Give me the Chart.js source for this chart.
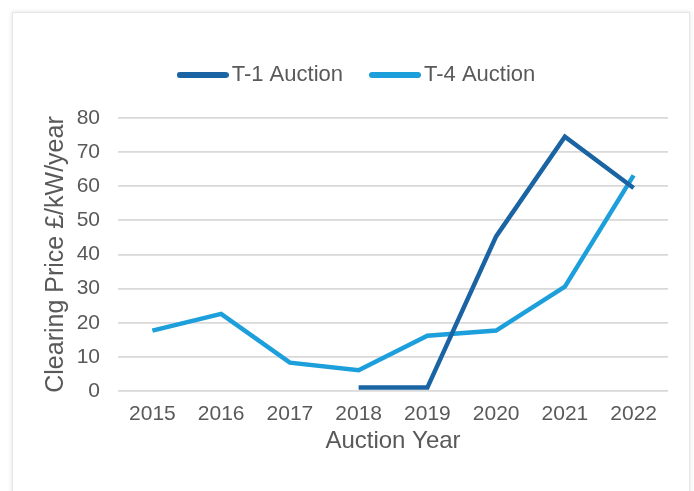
<!DOCTYPE html>
<html>
<head>
<meta charset="utf-8">
<title>Capacity Market clearing prices</title>
<script src="https://cdn.jsdelivr.net/npm/chart.js@4.4.1/dist/chart.umd.min.js"></script>
<style>
  html, body { margin: 0; padding: 0; background: #ffffff; overflow: hidden; }
  .card {
    position: absolute; left: 12px; top: 12px; width: 676px; height: 520px;
    border: 1px solid #e6e6e6; box-shadow: 0 0 5px rgba(0, 0, 0, 0.12);
    background: #ffffff;
  }
  #wrap { position: absolute; left: 0; top: 0; width: 694px; height: 491px; }
</style>
</head>
<body>
<div class="card"></div>
<div id="wrap"><canvas id="priceChart"></canvas></div>
<script>
// Clearing prices, £/kW/year
const years = ['2015', '2016', '2017', '2018', '2019', '2020', '2021', '2022'];
const t1Prices = [null, null, null, 1, 1, 45.3, 74.5, 59.5];
const t4Prices = [17.7, 22.6, 8.3, 6.1, 16.2, 17.7, 30.6, 63.2];
const yTicks = [0, 10, 20, 30, 40, 50, 60, 70, 80];

const DARK_BLUE = '#1a64a3';
const LIGHT_BLUE = '#1c9fdb';
const TEXT = '#595959';
const FONT = '"Liberation Sans", Arial, sans-serif';

// short rounded bar used as the legend marker
function legendSwatch(color) {
    const c = document.createElement('canvas');
    c.width = 52;
    c.height = 6;
    const g = c.getContext('2d');
    g.strokeStyle = color;
    g.lineWidth = 6;
    g.lineCap = 'round';
    g.beginPath();
    g.moveTo(3, 3);
    g.lineTo(49, 3);
    g.stroke();
    return c;
}

const swatches = [legendSwatch(DARK_BLUE), legendSwatch(LIGHT_BLUE)];

new Chart(document.getElementById('priceChart'), {
    type: 'line',
    data: {
        labels: years,
        datasets: [
            {
                label: 'T-1 Auction',
                data: t1Prices,
                borderColor: DARK_BLUE,
                backgroundColor: DARK_BLUE,
                borderWidth: 4.5,
                pointRadius: 0,
                tension: 0
            },
            {
                label: 'T-4 Auction',
                data: t4Prices,
                borderColor: LIGHT_BLUE,
                backgroundColor: LIGHT_BLUE,
                borderWidth: 4.5,
                pointRadius: 0,
                tension: 0
            }
        ]
    },
    options: {
        responsive: true,
        maintainAspectRatio: false,
        animation: false,
        layout: { padding: { top: 30, left: 52, right: 26, bottom: 0 } },
        plugins: {
            tooltip: { enabled: false },
            legend: {
                position: 'top',
                labels: {
                    usePointStyle: true,
                    pointStyleWidth: 36,
                    padding: 34,
                    color: TEXT,
                    font: { family: FONT, size: 22 },
                    generateLabels(chart) {
                        return chart.data.datasets.map((ds, i) => ({
                            text: ds.label,
                            pointStyle: swatches[i],
                            fillStyle: ds.borderColor,
                            strokeStyle: ds.borderColor,
                            lineWidth: 0,
                            fontColor: TEXT,
                            datasetIndex: i,
                            hidden: false
                        }));
                    }
                }
            },
            // blank spacer between the legend and the plot
            title: { display: true, text: '', weight: 500, padding: 0, font: { size: 17, lineHeight: '22px' } }
        },
        scales: {
            x: {
                offset: true,
                grid: { display: false },
                border: { display: false },
                ticks: { color: TEXT, font: { family: FONT, size: 21 }, padding: 3, maxRotation: 0 },
                title: {
                    display: true,
                    text: 'Auction Year',
                    color: TEXT,
                    font: { family: FONT, size: 24 },
                    padding: { top: 0, bottom: 35.6 }
                },
                afterFit(scale) { scale.height = 100; }
            },
            y: {
                min: 0,
                max: 80,
                afterBuildTicks(scale) { scale.ticks = yTicks.map(v => ({ value: v })); },
                grid: { color: '#d9d9d9', lineWidth: 1.8, drawTicks: false },
                border: { display: false },
                ticks: { color: TEXT, font: { family: FONT, size: 21 }, padding: 18 },
                title: {
                    display: true,
                    text: 'Clearing Price £/kW/year',
                    color: TEXT,
                    font: { family: FONT, size: 25 },
                    padding: { top: -11, bottom: 0 }
                },
                afterFit(scale) { scale.width = 66; }
            }
        }
    }
});
</script>
</body>
</html>
